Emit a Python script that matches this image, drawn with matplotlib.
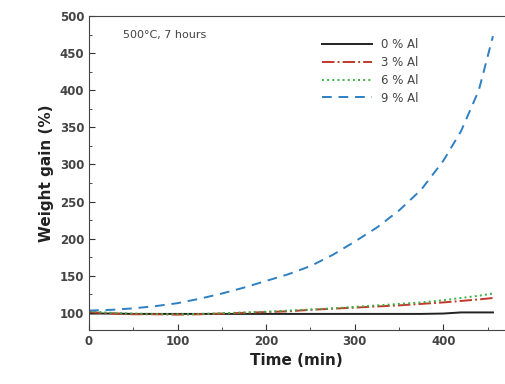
import matplotlib.pyplot as plt
from matplotlib.ticker import MultipleLocator

# weight gain (time in min)
time = [0, 25, 50, 75, 100, 125, 150, 175, 200, 225, 250, 275, 300, 325, 350, 375, 400, 420, 440, 456]
al0 = [99, 99, 98.5, 98.5, 98.5, 98.5, 98.5, 98.5, 98.5, 98.5, 98.5, 98.5, 98.5, 98.5, 98.5, 98.5, 99, 100.5, 100.5, 100.5]
al3 = [101, 99, 98, 98, 97.5, 98, 99, 100, 101, 102, 104, 105.5, 107, 108.5, 110, 112, 114, 116, 118, 120]
al6 = [102, 100, 99, 98.5, 98, 98.5, 99.5, 100.5, 101.5, 103, 104.5, 106, 108, 110, 112, 114, 117, 120, 123, 126]
al9 = [103, 104, 106, 109, 113, 119, 126, 134, 143, 152, 163, 178, 196, 215, 238, 266, 305, 345, 400, 473]

fig = plt.figure(figsize=(5.06, 3.84), dpi=100)
# the right spine falls outside the image, as in the reference
ax = fig.add_axes([0.176, 0.141, 0.87, 0.817])

ax.plot(time, al0, color='#222222', lw=1.4, ls='-', label='0 % Al')
ax.plot(time, al3, color='#c0392b', lw=1.4, ls='-.', label='3 % Al')
ax.plot(time, al6, color='#3cb043', lw=1.4, ls=':', label='6 % Al')
ax.plot(time, al9, color='#2e7fc4', lw=1.4, ls=(0, (5, 3.5)), label='9 % Al')

ax.set_xlim(0, 497)
ax.set_ylim(77, 500)
ax.xaxis.set_major_locator(MultipleLocator(100))
ax.xaxis.set_minor_locator(MultipleLocator(50))
ax.yaxis.set_major_locator(MultipleLocator(50))
ax.yaxis.set_minor_locator(MultipleLocator(25))
ax.tick_params(which='both', direction='in', colors='#333333', labelsize=8.5)
ax.tick_params(which='major', length=4)
ax.tick_params(which='minor', length=2)
for lab in ax.get_xticklabels() + ax.get_yticklabels():
    lab.set_fontweight('bold')
    lab.set_color('#444444')
for sp in ax.spines.values():
    sp.set_color('#444444')

ax.set_xlabel('Time (min)', fontsize=11, fontweight='bold', color='#222222',
              x=0.47)
ax.set_ylabel('Weight gain (%)', fontsize=11, fontweight='bold', color='#222222')

ax.text(0.077, 0.94, '500\u00b0C, 7 hours', transform=ax.transAxes, fontsize=8,
        color='#444444', va='center')
leg = ax.legend(loc='upper left', bbox_to_anchor=(0.505, 0.965), frameon=False,
                fontsize=8.5, handlelength=4.2, labelspacing=0.42)
for t in leg.get_texts():
    t.set_color('#444444')

fig.savefig('out.png', dpi=100)
